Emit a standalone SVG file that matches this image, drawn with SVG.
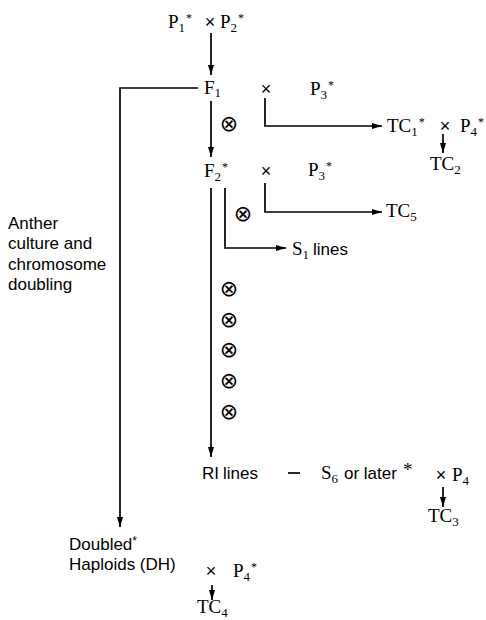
<svg xmlns="http://www.w3.org/2000/svg" width="486" height="620" viewBox="0 0 486 620">
<style>
.s{font-family:"Liberation Serif","Times New Roman",serif;font-size:19px;fill:#000}
.a{font-family:"Liberation Sans",Arial,sans-serif;font-size:17px;fill:#000}
.x{font-family:"Liberation Sans",Arial,sans-serif;font-size:18px;fill:#000;text-anchor:middle}
.o{font-family:"DejaVu Sans",sans-serif;font-size:22px;fill:#000;text-anchor:middle}
.ln{fill:none;stroke:#000;stroke-width:1.7}
</style>
<defs>
<marker id="ah" markerUnits="userSpaceOnUse" markerWidth="10" markerHeight="6" refX="10" refY="3" orient="auto">
<path d="M0,0 L10,3 L0,6 z" fill="#000"/>
</marker>
</defs>
<rect width="486" height="620" fill="#fff"/>
<g id="connectors">
<line class="ln" x1="211" y1="33" x2="211" y2="75" marker-end="url(#ah)"/>
<line class="ln" x1="211" y1="101" x2="211" y2="157" marker-end="url(#ah)"/>
<polyline class="ln" points="198,88 120,88 120,527" marker-end="url(#ah)"/>
<polyline class="ln" points="265,98 265,126 382,126" marker-end="url(#ah)"/>
<line class="ln" x1="443" y1="134" x2="443" y2="153" marker-end="url(#ah)"/>
<polyline class="ln" points="265,183 265,212 382,212" marker-end="url(#ah)"/>
<polyline class="ln" points="225,188 225,248 286,248" marker-end="url(#ah)"/>
<line class="ln" x1="211" y1="188" x2="211" y2="457" marker-end="url(#ah)"/>
<line class="ln" x1="443" y1="487" x2="443" y2="507" marker-end="url(#ah)"/>
<line class="ln" x1="212" y1="585" x2="212" y2="600" marker-end="url(#ah)"/>
<line class="ln" x1="288" y1="473" x2="300" y2="473"/>
</g>
<g id="n-p1p2">
<text class="s" x="168" y="28">P<tspan font-size="13" dy="4">1</tspan><tspan font-size="12" dy="-10" dx="1">*</tspan></text>
<text class="x" x="210" y="28">×</text>
<text class="s" x="220" y="28">P<tspan font-size="13" dy="4">2</tspan><tspan font-size="12" dy="-10" dx="1">*</tspan></text>
</g>
<g id="n-f1">
<text class="s" x="204" y="94">F<tspan font-size="13" dy="3">1</tspan></text>
<text class="x" x="266" y="95">×</text>
<text class="s" x="310" y="95">P<tspan font-size="13" dy="4">3</tspan><tspan font-size="12" dy="-10" dx="1">*</tspan></text>
<text class="o" x="229" y="131">⊗</text>
</g>
<g id="n-tc1">
<text class="s" x="387" y="132">TC<tspan font-size="13" dy="4">1</tspan><tspan font-size="12" dy="-10" dx="1">*</tspan></text>
<text class="x" x="445" y="132">×</text>
<text class="s" x="460" y="132">P<tspan font-size="13" dy="4">4</tspan><tspan font-size="12" dy="-10" dx="1">*</tspan></text>
</g>
<g id="n-tc2">
<text class="s" x="430" y="170">TC<tspan font-size="13" dy="4">2</tspan></text>
</g>
<g id="n-f2">
<text class="s" x="204" y="177">F<tspan font-size="13" dy="4">2</tspan><tspan font-size="12" dy="-10" dx="1">*</tspan></text>
<text class="x" x="266" y="177">×</text>
<text class="s" x="308" y="176">P<tspan font-size="13" dy="4">3</tspan><tspan font-size="12" dy="-10" dx="1">*</tspan></text>
<text class="o" x="243" y="221">⊗</text>
</g>
<g id="n-tc5">
<text class="s" x="386" y="217">TC<tspan font-size="13" dy="4">5</tspan></text>
</g>
<g id="n-s1">
<text class="s" x="292" y="255">S<tspan font-size="13" dy="4">1</tspan></text>
<text class="a" x="313" y="255">lines</text>
</g>
<g id="n-anther">
<text class="a" x="8" y="229">Anther</text>
<text class="a" x="8" y="249">culture and</text>
<text class="a" x="8" y="270">chromosome</text>
<text class="a" x="8" y="290">doubling</text>
</g>
<g id="n-selfing">
<text class="o" x="229" y="296">⊗</text>
<text class="o" x="229" y="327">⊗</text>
<text class="o" x="229" y="357">⊗</text>
<text class="o" x="229" y="388">⊗</text>
<text class="o" x="229" y="419">⊗</text>
</g>
<g id="n-ri">
<text class="a" x="202" y="479">RI <tspan x="223">lines</tspan></text>
</g>
<g id="n-s6">
<text class="s" x="321" y="479">S<tspan font-size="13" dy="4">6</tspan></text>
<text class="a" x="344" y="479">or later</text>
<text class="s" x="403" y="479" font-size="12" dy="-3">*</text>
<text class="x" x="441" y="481">×</text>
<text class="s" x="452" y="481">P<tspan font-size="13" dy="4">4</tspan></text>
</g>
<g id="n-tc3">
<text class="s" x="428" y="522">TC<tspan font-size="13" dy="4">3</tspan></text>
</g>
<g id="n-dh">
<text class="a" x="69" y="550">Doubled<tspan font-size="12" dy="-5">*</tspan></text>
<text class="a" x="69" y="570">Haploids (DH)</text>
<text class="x" x="211" y="577">×</text>
<text class="s" x="233" y="577">P<tspan font-size="13" dy="4">4</tspan><tspan font-size="12" dy="-10" dx="1">*</tspan></text>
</g>
<g id="n-tc4">
<text class="s" x="197" y="613">TC<tspan font-size="13" dy="4">4</tspan></text>
</g>
</svg>
